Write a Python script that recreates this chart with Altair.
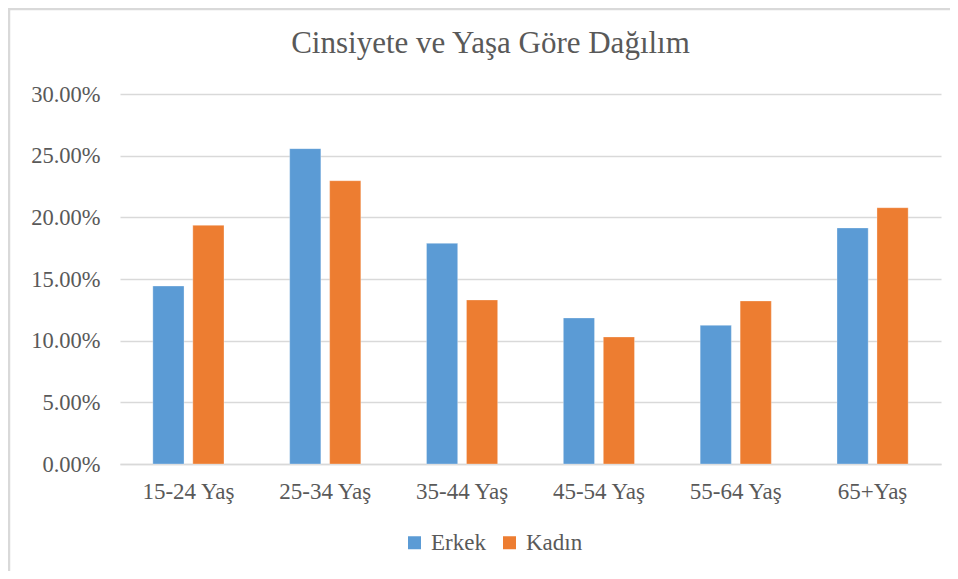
import altair as alt
import pandas as pd

categories = ["15-24 Yaş", "25-34 Yaş", "35-44 Yaş", "45-54 Yaş", "55-64 Yaş", "65+Yaş"]
series = ["Erkek", "Kadın"]
erkek = [0.1443, 0.2557, 0.1789, 0.1184, 0.1124, 0.1914]
kadin = [0.1935, 0.2297, 0.1330, 0.1030, 0.1322, 0.2078]
colors = ["#5B9BD5", "#ED7D31"]

rows = []
for c, e, k in zip(categories, erkek, kadin):
    rows.append({"Yaş": c, "Cinsiyet": "Erkek", "Oran": e})
    rows.append({"Yaş": c, "Cinsiyet": "Kadın", "Oran": k})
df = pd.DataFrame(rows)

FONT = "'Liberation Serif', 'Times New Roman', 'DejaVu Serif', serif"
TXT = "#595959"

bars = alt.Chart(df).mark_bar(stroke="white", strokeWidth=0.6, strokeOpacity=0.5).encode(
    x=alt.X("Yaş:N", sort=categories, title=None,
            scale=alt.Scale(paddingInner=0.48, paddingOuter=0.24),
            axis=alt.Axis(labelAngle=0, labelFont=FONT, labelFontSize=23, labelColor=TXT,
                          labelPadding=16, ticks=False, domain=True, domainColor="#d9d9d9",
                          domainWidth=1.3, grid=False)),
    xOffset=alt.XOffset("Cinsiyet:N", sort=series,
                        scale=alt.Scale(paddingInner=0.22, paddingOuter=0)),
    y=alt.Y("Oran:Q", title=None,
            scale=alt.Scale(domain=[0, 0.30], nice=False),
            axis=alt.Axis(format=".2%", values=[0, 0.05, 0.10, 0.15, 0.20, 0.25, 0.30],
                          labelFont=FONT, labelFontSize=22.5, labelColor=TXT, labelPadding=20,
                          ticks=False, domain=False, grid=True, gridColor="#d9d9d9",
                          gridWidth=1.3)),
    color=alt.Color("Cinsiyet:N", sort=series, scale=alt.Scale(domain=series, range=colors),
                    legend=alt.Legend(title=None, orient="none", direction="horizontal",
                                      legendX=283, legendY=437, symbolType="square",
                                      symbolSize=169, symbolStrokeWidth=0,
                                      labelFont=FONT, labelFontSize=23, labelColor=TXT,
                                      columnPadding=12, labelOffset=5)),
)

border = alt.Chart(pd.DataFrame({"a": [0]})).mark_rect(
    fill=None, stroke="#d9d9d9", strokeWidth=2.5
).encode(
    x=alt.value(-111), x2=alt.value(900), y=alt.value(-85), y2=alt.value(600)
)

chart = alt.layer(bars, border).properties(
    width=821, height=370,
    autosize=alt.AutoSizeParams(type="none"),
    padding={"left": 112, "top": 86, "right": 9, "bottom": 107},
    title=alt.TitleParams("Cinsiyete ve Yaşa Göre Dağılım", font=FONT, fontSize=31,
                          fontWeight="normal", color=TXT, anchor="middle", frame="group",
                          offset=0, baseline="alphabetic", dy=76, dx=-40),
).configure(background="white", view=alt.ViewConfig(stroke=None))

chart.save("out.html", embed_options={"renderer": "svg", "actions": False})
